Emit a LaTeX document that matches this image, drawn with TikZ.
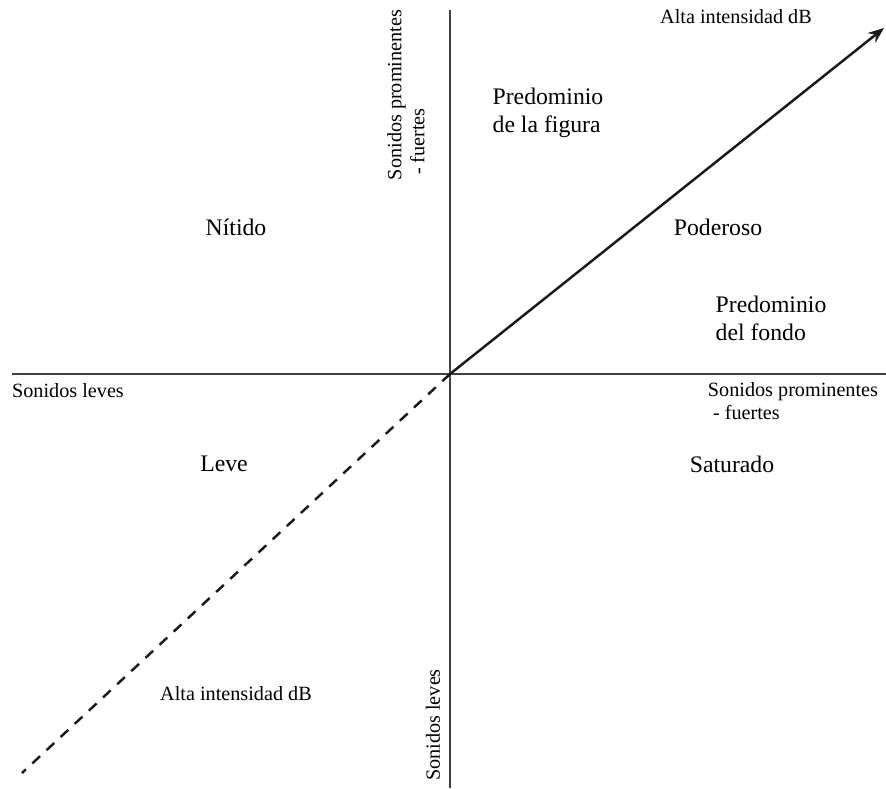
\documentclass[tikz,border=0pt]{standalone}
\usepackage{fontspec}
\setmainfont{Liberation Serif}
\usetikzlibrary{arrows.meta, positioning}

\begin{document}
\begin{tikzpicture}[
    x=0.02cm, y=-0.02cm,
    % Define styles
    axisline/.style={draw=black!75, line width=0.7pt},
    intensity/.style={line width=1.4pt, draw=black!90},
    smalllabel/.style={font=\fontsize{11.5}{13}\selectfont, align=left, inner sep=0pt},
    zonelabel/.style={font=\fontsize{13.5}{16}\selectfont, align=left, inner sep=0pt}
]
    \useasboundingbox (0,0) rectangle (886,788);

    % 1. Axis end points
    \coordinate (O) at (450,374);
    \coordinate (xleft) at (12,374);
    \coordinate (xright) at (886,374);
    \coordinate (ytop) at (450,10);
    \coordinate (ybottom) at (450,788);
    \coordinate (tip) at (884,28);
    \coordinate (tail) at (22,773);

    % 2. Axes
    \draw[axisline] (xleft) -- (xright);
    \draw[axisline] (ytop) -- (ybottom);

    % 3. Intensity diagonal
    \draw[intensity, -{Stealth[length=9pt, width=7pt]}] (O) -- (tip);
    \draw[intensity, dash pattern=on 6pt off 5pt] (O) -- (tail);

    % 4. Axis labels
    \node[smalllabel] (leftlbl) at (68,391) {Sonidos leves};
    \node[smalllabel] (rightlbl) at (793,401) {Sonidos prominentes\\\ - fuertes};
    \node[smalllabel, rotate=90] (toplbl) at (406,95) {Sonidos prominentes\\\ - fuertes};
    \node[smalllabel, rotate=90] (bottomlbl) at (433,725) {Sonidos leves};
    \node[smalllabel] (hightop) at (736,17) {Alta intensidad dB};
    \node[smalllabel] (highbottom) at (236,694) {Alta intensidad dB};

    % 5. Quadrant labels
    \node[zonelabel] (figura) at (548,113) {Predominio\\de la figura};
    \node[zonelabel] (nitido) at (236,227) {Nítido};
    \node[zonelabel] (poderoso) at (718,227) {Poderoso};
    \node[zonelabel] (fondo) at (771,318) {Predominio\\del fondo};
    \node[zonelabel] (leve) at (224,464) {Leve};
    \node[zonelabel] (saturado) at (732,464) {Saturado};

\end{tikzpicture}
\end{document}
